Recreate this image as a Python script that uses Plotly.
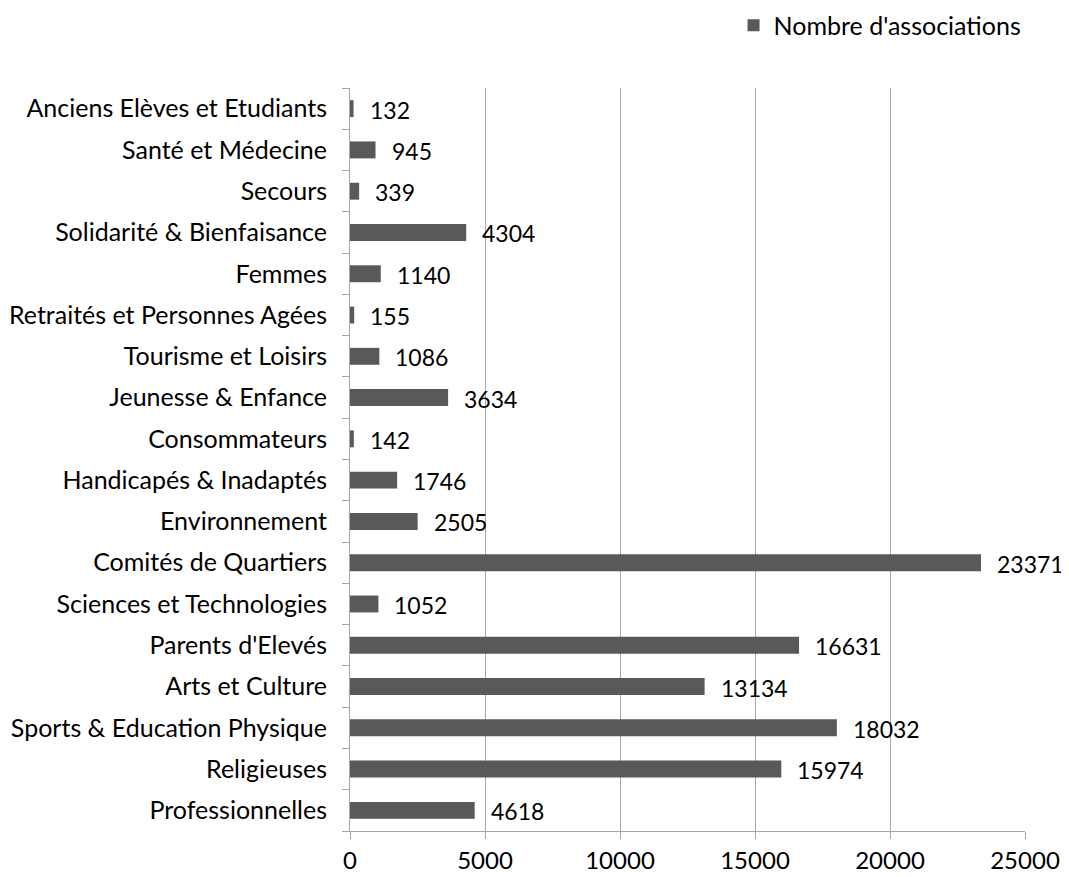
import plotly.graph_objects as go

categories = [
    "Professionnelles",
    "Religieuses",
    "Sports & Education Physique",
    "Arts et Culture",
    "Parents d'Elevés",
    "Sciences et Technologies",
    "Comités de Quartiers",
    "Environnement",
    "Handicapés & Inadaptés",
    "Consommateurs",
    "Jeunesse & Enfance",
    "Tourisme et Loisirs",
    "Retraités et Personnes Agées",
    "Femmes",
    "Solidarité & Bienfaisance",
    "Secours",
    "Santé et Médecine",
    "Anciens Elèves et Etudiants",
]
values = [4618, 15974, 18032, 13134, 16631, 1052, 23371, 2505, 1746, 142,
          3634, 1086, 155, 1140, 4304, 339, 945, 132]
series_name = "Nombre d'associations"
x_ticks = [0, 5000, 10000, 15000, 20000, 25000]

FONT = "Lato"
BAR = "#595959"
GRID = "#a6a6a6"

fig = go.Figure()
fig.add_trace(go.Bar(
    y=categories, x=values, orientation="h", name=series_name,
    marker=dict(color=BAR, line=dict(width=0)),
    showlegend=True,
))

for c, v in zip(categories, values):
    fig.add_annotation(
        x=v, y=c, text=str(v), showarrow=False,
        xanchor="left", yanchor="middle", xshift=14, yshift=-1,
        font=dict(family=FONT, size=23, color="#000000"),
    )

fig.update_layout(
    width=1061, height=869,
    paper_bgcolor="white", plot_bgcolor="white",
    margin=dict(l=342, r=44, t=80, b=46, autoexpand=False),
    bargap=0.59,
    font=dict(family=FONT, size=22, color="#000000"),
    legend=dict(
        orientation="h", xref="container", x=0.960, xanchor="right",
        yref="container", y=0.980, yanchor="middle",
        font=dict(family=FONT, size=25, color="#000000"),
        itemwidth=30, bgcolor="rgba(0,0,0,0)",
    ),
    xaxis=dict(
        range=[0, 25000], tickvals=x_ticks, ticktext=[str(t) for t in x_ticks],
        showgrid=True, gridcolor=GRID, gridwidth=1,
        showline=True, linecolor=GRID, linewidth=1,
        ticks="outside", ticklen=7, tickcolor=GRID,
        zeroline=False, tickfont=dict(family=FONT, size=24),
        ticklabelstandoff=1, automargin=False,
    ),
    yaxis=dict(
        type="category", categoryorder="array", categoryarray=categories,
        showgrid=False, showline=True, linecolor=GRID, linewidth=1,
        ticks="outside", ticklen=7, tickcolor=GRID, tickson="boundaries",
        tickfont=dict(family=FONT, size=25), ticklabelstandoff=17,
        automargin=False,
    ),
)

fig.write_html("out.html")
